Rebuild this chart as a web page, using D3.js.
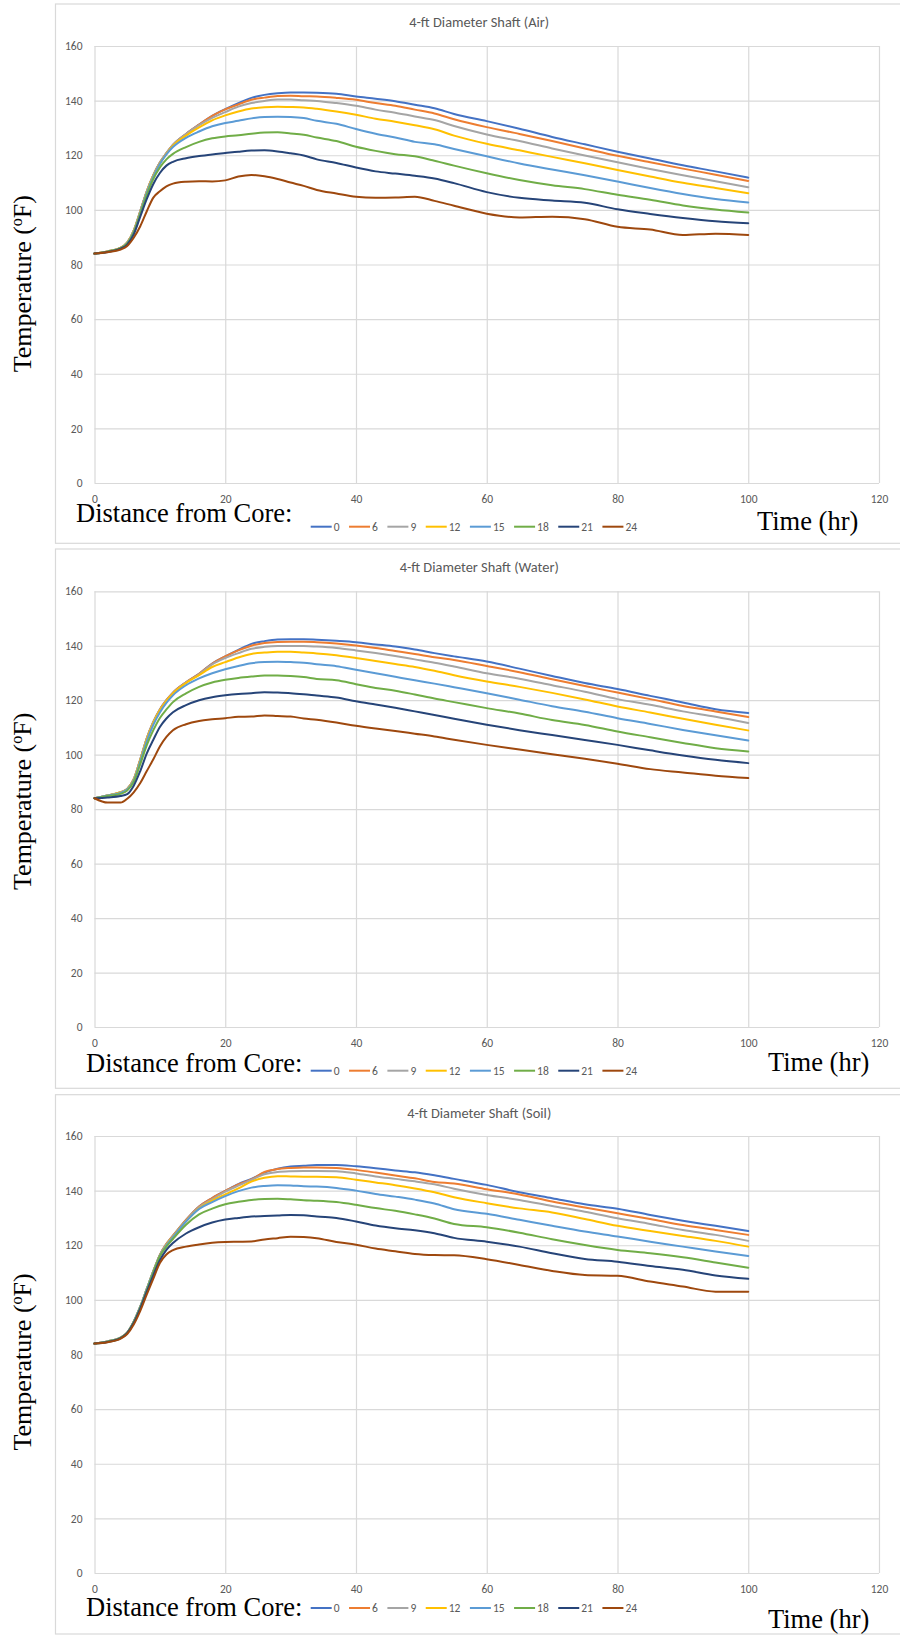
<!DOCTYPE html>
<html>
<head>
<meta charset="utf-8">
<title>4-ft Diameter Shaft temperatures</title>
<script src="https://cdn.jsdelivr.net/npm/d3@7"></script>
<style>
  body { margin: 0; background: #ffffff; }
  svg { display: block; }
</style>
</head>
<body>
<svg id="chart" width="900" height="1636"></svg>
<script>
// Time axis of the simulation (hr)
const hours = [0, 2, 4, 5, 6, 7, 8, 9, 10, 11, 12, 14, 16, 18, 20, 22, 24, 26, 28, 30,
  32, 34, 37, 40, 43, 46, 49, 52, 55, 60, 65, 70, 75, 80, 85, 90, 95, 100];

// Distance from core (in) — one series per distance
const distances = ["0", "6", "9", "12", "15", "18", "21", "24"];
const seriesColors = ["#4472C4", "#ED7D31", "#A5A5A5", "#FFC000", "#5B9BD5", "#70AD47", "#264478", "#9E480E"];

const xTicks = [0, 20, 40, 60, 80, 100, 120];
const yTicks = [0, 20, 40, 60, 80, 100, 120, 140, 160];

const panelTitles = ["4-ft Diameter Shaft (Air)", "4-ft Diameter Shaft (Water)", "4-ft Diameter Shaft (Soil)"];

// Temperature (°F), shaft curing in air
const airTemps = [
  [84, 84.8, 86.1, 88, 92.4, 99.5, 106.8, 112.7, 117.3, 120.8, 123.8, 127.8, 131.2, 134.4, 136.9, 139.1, 141, 142.1, 142.7, 143, 143, 142.9, 142.5, 141.5, 140.7, 139.8, 138.5, 137.2, 135.1, 132.5, 129.7, 126.7, 124, 121.3, 118.8, 116.3, 114.1, 111.8],
  [84, 84.8, 86.1, 88, 92.4, 99.5, 106.8, 112.7, 117.3, 120.8, 123.8, 127.8, 131.2, 134.4, 136.8, 138.6, 140.3, 141.1, 141.7, 141.8, 141.6, 141.5, 141, 140.3, 139.1, 138.1, 136.7, 135.3, 133.2, 130.3, 127.8, 125.2, 122.5, 119.8, 117.4, 115.1, 112.9, 110.6],
  [84, 84.8, 86.1, 88, 92.4, 99.5, 106.8, 112.7, 117.3, 120.8, 123.8, 127.8, 131, 133.7, 135.8, 137.8, 139.1, 139.9, 140.4, 140.4, 140.1, 139.9, 139.1, 138.1, 136.7, 135.6, 134.2, 132.9, 130.7, 127.6, 125.2, 122.5, 119.9, 117.4, 115, 112.7, 110.5, 108.3],
  [84, 84.8, 86.1, 88, 92.3, 99.3, 106.6, 112.5, 117, 120.5, 123.5, 127.2, 130.2, 132.8, 134.6, 136, 137.1, 137.6, 137.8, 137.7, 137.5, 137, 136, 134.8, 133.4, 132.3, 131, 129.5, 127.2, 124.2, 121.8, 119.4, 117.1, 114.6, 112.2, 109.9, 108, 106.1],
  [84, 84.7, 86, 87.8, 92, 99, 106.3, 112.2, 116.8, 120.3, 123, 126.4, 128.7, 130.6, 131.8, 132.6, 133.5, 134, 134.1, 134, 133.6, 132.6, 131.5, 129.6, 127.9, 126.5, 124.9, 124, 122.3, 119.6, 117, 114.8, 112.7, 110.4, 108, 105.8, 104, 102.7],
  [84, 84.7, 86, 87.6, 91.7, 98.5, 105.5, 111.3, 115.5, 118.5, 120.5, 123, 124.9, 126.2, 126.9, 127.3, 127.9, 128.3, 128.4, 128, 127.5, 126.5, 125.2, 123.1, 121.6, 120.4, 119.6, 118, 116.2, 113.4, 110.9, 109, 107.6, 105.5, 103.7, 101.6, 100.1, 99],
  [84, 84.6, 85.8, 87.3, 91, 97.5, 104, 109.5, 113.5, 116.2, 117.6, 118.9, 119.7, 120.3, 120.8, 121.3, 121.7, 121.8, 121.4, 120.7, 119.9, 118.5, 117.2, 115.5, 114.1, 113.3, 112.5, 111.5, 109.8, 106.5, 104.4, 103.4, 102.6, 100.2, 98.5, 97, 95.8, 95.1],
  [84, 84.5, 85.5, 86.8, 89.8, 94, 99.5, 104.5, 106.8, 108.6, 109.6, 110.3, 110.5, 110.4, 110.8, 112.2, 112.8, 112.3, 111.3, 110, 108.8, 107.3, 106, 104.8, 104.4, 104.5, 104.8, 103.3, 101.5, 98.6, 97.2, 97.5, 96.6, 93.8, 92.8, 90.8, 91.3, 90.8]
];

// Temperature (°F), shaft curing in water
const waterTemps = [
  [84, 85, 86.2, 87.4, 91, 98.2, 106, 112, 116.6, 120, 122.8, 126.6, 129.7, 133.5, 136.1, 138.5, 140.7, 141.7, 142.3, 142.4, 142.4, 142.2, 141.8, 141.3, 140.5, 139.7, 138.6, 137.3, 136.1, 134.2, 131.6, 128.9, 126.3, 124.1, 121.6, 119.2, 116.7, 115.3],
  [84, 85, 86.2, 87.4, 91, 98.2, 106, 112, 116.6, 120, 122.8, 126.6, 129.7, 133.4, 136.1, 138.3, 140, 141, 141.4, 141.5, 141.5, 141.3, 140.8, 140.1, 139.2, 138.1, 137, 135.8, 134.8, 132.6, 130.3, 127.7, 125.2, 122.8, 120.4, 117.9, 115.9, 113.8],
  [84, 85, 86.2, 87.4, 91, 98.2, 106, 112, 116.5, 119.9, 122.6, 126.5, 129.5, 133.2, 135.5, 137.3, 138.9, 139.6, 139.9, 139.9, 139.9, 139.7, 139.2, 138.3, 137.3, 136.2, 135, 133.8, 132.4, 129.9, 127.9, 125.5, 123.1, 120.4, 118.3, 115.9, 113.9, 111.6],
  [84, 85, 86.2, 87.3, 90.8, 98, 105.7, 111.7, 116.3, 119.8, 122.5, 126.3, 129.2, 132.2, 134, 135.7, 137, 137.5, 137.8, 137.8, 137.5, 137.2, 136.5, 135.5, 134.4, 133.3, 132.2, 130.8, 129.2, 126.9, 124.9, 122.7, 120.3, 117.7, 115.5, 113.2, 111, 108.9],
  [84, 85, 86, 87.2, 90.5, 97.5, 105, 111, 115.5, 119, 121.8, 125.5, 128, 129.9, 131.4, 132.6, 133.6, 134, 134.1, 134, 133.8, 133.2, 132.5, 131.2, 129.9, 128.6, 127.3, 126.1, 124.8, 122.6, 120.2, 117.8, 115.8, 113.4, 111.3, 109.1, 107.1, 105.2],
  [84, 84.8, 85.6, 86.8, 90, 96.5, 103.5, 109, 113.5, 116.6, 119.3, 122.5, 124.9, 126.5, 127.5, 128.2, 128.7, 129.1, 129.1, 128.9, 128.5, 127.8, 127.3, 125.9, 124.5, 123.5, 122.1, 120.6, 119.3, 117.1, 115.1, 112.7, 110.9, 108.5, 106.4, 104.3, 102.4, 101.2],
  [84, 84.3, 84.8, 85.5, 88.6, 94, 100.5, 105.5, 110.2, 113.3, 115.6, 118.2, 120, 121.1, 121.8, 122.3, 122.6, 122.9, 122.8, 122.6, 122.2, 121.7, 121, 119.6, 118.4, 117.2, 115.9, 114.6, 113.2, 111, 109, 107.2, 105.4, 103.6, 101.6, 99.7, 98.1, 96.9],
  [84, 82.4, 82.4, 83.8, 86.2, 89.6, 94, 98.3, 103, 106.5, 109, 111.2, 112.4, 113, 113.4, 113.9, 114, 114.4, 114.2, 114, 113.3, 112.8, 111.8, 110.6, 109.6, 108.7, 107.7, 106.7, 105.5, 103.6, 101.9, 100.2, 98.5, 96.7, 94.7, 93.5, 92.3, 91.4]
];

// Temperature (°F), shaft curing in soil
const soilTemps = [
  [84, 84.8, 86.2, 88, 92, 97.5, 104, 110.5, 116.5, 120.5, 123.5, 129.3, 134.2, 137.3, 139.9, 142.4, 144.3, 146.6, 148, 148.8, 149.1, 149.4, 149.4, 148.9, 148.2, 147.4, 146.7, 145.6, 144.3, 142.1, 139.4, 137.2, 135, 133.4, 131.1, 129, 127.1, 125.2],
  [84, 84.8, 86.2, 88, 92, 97.5, 104, 110.5, 116.5, 120.5, 123.5, 129.3, 134.2, 137.3, 139.9, 142.3, 144.1, 146.8, 147.9, 148.3, 148.5, 148.5, 148.3, 147.6, 146.6, 145.5, 144.5, 143.2, 142.6, 140.5, 138.6, 136, 133.8, 131.7, 129.6, 127.4, 125.6, 123.8],
  [84, 84.8, 86.2, 88, 92, 97.5, 104, 110.5, 116.4, 120.3, 123.3, 129, 133.9, 136.8, 139.6, 141.8, 143.9, 146, 146.8, 147.1, 147.2, 147.2, 147.1, 146.3, 145.2, 144.3, 143.4, 142.3, 140.7, 138.4, 136.6, 134.4, 132.3, 129.9, 127.8, 125.6, 123.8, 121.6],
  [84, 84.8, 86.2, 88, 92, 97.5, 104, 110.5, 116.3, 120.2, 123.2, 128.8, 133.5, 136.3, 138.6, 140.8, 143.3, 144.7, 145.3, 145.2, 145.1, 145.1, 144.9, 144, 143, 142, 140.8, 139.4, 137.6, 135.4, 133.5, 132, 129.6, 127.1, 125.2, 123.4, 121.6, 119.5],
  [84, 84.8, 86.2, 88, 92, 97.5, 104, 110.4, 116.2, 120, 123, 128.7, 133.3, 135.8, 138, 139.8, 141.1, 141.7, 142, 141.9, 141.6, 141.5, 141, 140, 138.8, 137.8, 136.7, 135.3, 133.2, 131.5, 129.3, 127.1, 125, 123.2, 121.3, 119.5, 117.7, 116.1],
  [84, 84.7, 86.1, 87.9, 91.8, 97.2, 103.5, 110, 116, 119.5, 122.3, 127.5, 131.3, 133.4, 135, 135.9, 136.6, 136.9, 137, 136.8, 136.5, 136.3, 135.8, 134.8, 133.6, 132.6, 131.3, 129.8, 127.8, 126.6, 124.6, 122.2, 120.1, 118.3, 117.1, 115.6, 113.7, 111.8],
  [84, 84.6, 86, 87.8, 91.5, 96.8, 103, 109, 114.5, 118.3, 120.8, 124.3, 126.6, 128.3, 129.4, 130, 130.5, 130.7, 130.9, 131.1, 131, 130.5, 130, 128.7, 127.2, 126.2, 125.5, 124.4, 122.7, 121.3, 119.5, 117.1, 115, 114, 112.4, 111, 108.9, 107.7],
  [84, 84.5, 85.8, 87.5, 91, 96, 102, 107.8, 113.5, 116.6, 118.2, 119.5, 120.3, 120.9, 121.2, 121.3, 121.4, 122.1, 122.6, 123.1, 123, 122.6, 121.2, 120.2, 118.8, 117.8, 116.8, 116.4, 116.3, 114.9, 112.8, 110.6, 109.1, 108.8, 106.7, 104.9, 103, 103]
];

const panelData = [airTemps, waterTemps, soilTemps];

// Page geometry of the three stacked chart boxes
const frames = [
  { top: 4,      bottom: 543.3,  plotTop: 46,    plotBottom: 483,  yTitleEnd: 195,    distX: 76, distY: 522,    legendY: 526.7,  timeX: 757, timeY: 530 },
  { top: 549,    bottom: 1088.3, plotTop: 591.3, plotBottom: 1027, yTitleEnd: 712.7,  distX: 86, distY: 1071.5, legendY: 1070.7, timeX: 768, timeY: 1071 },
  { top: 1094.7, bottom: 1634,   plotTop: 1136,  plotBottom: 1573, yTitleEnd: 1273.3, distX: 86, distY: 1616,   legendY: 1608,   timeX: 768, timeY: 1628 }
];
const boxLeft = 55.5, boxRight = 903;
const plotLeft = 94.5, plotRight = 879;

const sansFont = "Calibri, Carlito, Lato, 'Liberation Sans', sans-serif";
const serifFont = "'Times New Roman', 'Liberation Serif', 'DejaVu Serif', serif";
const gridColor = "#D9D9D9";
const labelColor = "#595959";

const svg = d3.select("#chart");

const x = d3.scaleLinear().domain([0, 120]).range([plotLeft, plotRight]);

frames.forEach((f, pi) => {
  const g = svg.append("g");
  const y = d3.scaleLinear().domain([0, 160]).range([f.plotBottom, f.plotTop]);

  // chart box
  g.append("rect")
    .attr("x", boxLeft).attr("y", f.top)
    .attr("width", boxRight - boxLeft).attr("height", f.bottom - f.top)
    .attr("fill", "#fff").attr("stroke", gridColor).attr("stroke-width", 1.2);

  // title
  g.append("text")
    .attr("x", (boxLeft + boxRight) / 2).attr("y", f.top + 23)
    .attr("text-anchor", "middle")
    .attr("font-family", sansFont).attr("font-size", 14.4)
    .attr("fill", labelColor)
    .text(panelTitles[pi]);

  // horizontal gridlines
  g.append("g")
    .attr("transform", `translate(${plotLeft},0)`)
    .call(d3.axisLeft(y).tickValues(yTicks).tickSize(-(plotRight - plotLeft)).tickFormat(""))
    .call(s => s.select(".domain").remove())
    .call(s => s.selectAll("text").remove())
    .call(s => s.selectAll("line").attr("stroke", gridColor).attr("stroke-width", 1.2));

  // vertical gridlines
  g.append("g")
    .attr("transform", `translate(0,${f.plotBottom})`)
    .call(d3.axisBottom(x).tickValues(xTicks).tickSize(-(f.plotBottom - f.plotTop)).tickFormat(""))
    .call(s => s.select(".domain").remove())
    .call(s => s.selectAll("text").remove())
    .call(s => s.selectAll("line").attr("stroke", gridColor).attr("stroke-width", 1.2));

  // y tick labels
  g.append("g")
    .attr("transform", `translate(${plotLeft},0)`)
    .call(d3.axisLeft(y).tickValues(yTicks).tickSize(0).tickPadding(12))
    .call(s => s.select(".domain").remove())
    .call(s => s.selectAll("line").remove())
    .call(s => s.selectAll("text").attr("font-family", sansFont).attr("font-size", 11.5).attr("fill", labelColor));

  // x tick labels
  g.append("g")
    .attr("transform", `translate(0,${f.plotBottom})`)
    .call(d3.axisBottom(x).tickValues(xTicks).tickSize(0).tickPadding(12))
    .call(s => s.select(".domain").remove())
    .call(s => s.selectAll("line").remove())
    .call(s => s.selectAll("text").attr("font-family", sansFont).attr("font-size", 11.5).attr("fill", labelColor));

  // temperature curves
  const line = d3.line()
    .x((d, i) => x(hours[i]))
    .y(d => y(d))
    .curve(d3.curveMonotoneX);

  g.append("g").selectAll("path")
    .data(panelData[pi])
    .join("path")
    .attr("d", line)
    .attr("fill", "none")
    .attr("stroke", (d, i) => seriesColors[i])
    .attr("stroke-width", 2)
    .attr("stroke-linejoin", "round")
    .attr("stroke-linecap", "round");

  // y axis title, outside the chart box, reading bottom to top
  const yTitle = g.append("text")
    .attr("transform", `translate(31,${f.yTitleEnd}) rotate(-90)`)
    .attr("text-anchor", "end")
    .attr("font-family", serifFont).attr("font-size", 26)
    .attr("fill", "#000");
  yTitle.append("tspan").text("Temperature (");
  yTitle.append("tspan").attr("font-size", 16).attr("dy", -9).text("o");
  yTitle.append("tspan").attr("dy", 9).text("F)");

  // legend caption
  g.append("text")
    .attr("x", f.distX).attr("y", f.distY)
    .attr("font-family", serifFont).attr("font-size", 26.5)
    .attr("fill", "#000")
    .text("Distance from Core:");

  // legend entries
  let lx = 310.7;
  distances.forEach((name, i) => {
    g.append("line")
      .attr("x1", lx).attr("x2", lx + 21)
      .attr("y1", f.legendY).attr("y2", f.legendY)
      .attr("stroke", seriesColors[i]).attr("stroke-width", 2);
    const t = g.append("text")
      .attr("x", lx + 23).attr("y", f.legendY + 4)
      .attr("font-family", sansFont).attr("font-size", 11.5)
      .attr("fill", labelColor)
      .text(name);
    lx += 21 + 2 + t.node().getComputedTextLength() + 9.5;
  });

  // x axis title
  g.append("text")
    .attr("x", f.timeX).attr("y", f.timeY)
    .attr("font-family", serifFont).attr("font-size", 26.5)
    .attr("fill", "#000")
    .text("Time (hr)");
});
</script>
</body>
</html>
